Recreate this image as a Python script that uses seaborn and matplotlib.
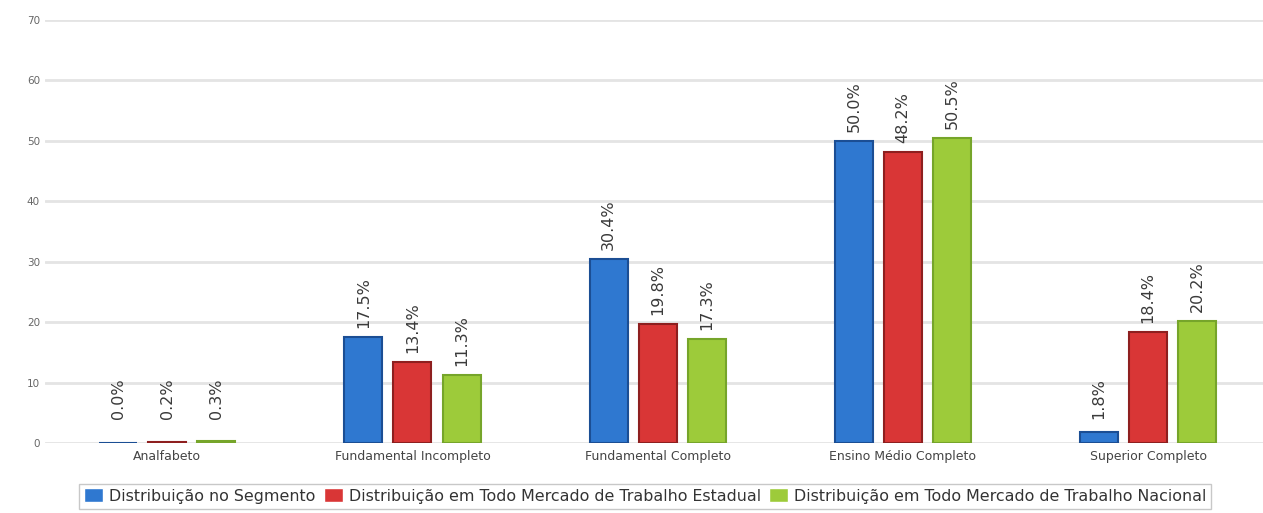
import matplotlib
matplotlib.use("Agg")
import matplotlib.pyplot as plt
import pandas as pd
import seaborn as sns

# data
categorias = ["Analfabeto", "Fundamental Incompleto", "Fundamental Completo",
              "Ensino Médio Completo", "Superior Completo"]
series = ["Distribuição no Segmento",
          "Distribuição em Todo Mercado de Trabalho Estadual",
          "Distribuição em Todo Mercado de Trabalho Nacional"]
segmento = [0.0, 17.5, 30.4, 50.0, 1.8]
estadual = [0.2, 13.4, 19.8, 48.2, 18.4]
nacional = [0.3, 11.3, 17.3, 50.5, 20.2]
yticks = [0, 10, 20, 30, 40, 50, 60, 70]

cores = ["#2f78d0", "#d93636", "#9dcb3a"]
bordas = ["#1b4e94", "#8e1f1f", "#76a52a"]

rows = []
for s, vals in zip(series, [segmento, estadual, nacional]):
    for c, v in zip(categorias, vals):
        rows.append({"categoria": c, "serie": s, "valor": v})
df = pd.DataFrame(rows)

sns.set_style("white")
plt.rcParams['font.family'] = ['DejaVu Sans']

fig = plt.figure(figsize=(12.63, 5.13), dpi=100)
ax = fig.add_axes([0.036, 0.136, 0.964, 0.825])

sns.barplot(data=df, x="categoria", y="valor", hue="serie", order=categorias,
            hue_order=series, palette=cores, width=0.6, gap=0.225,
            ax=ax, errorbar=None, saturation=1)

for cont, ec in zip(ax.containers, bordas):
    for b in cont:
        b.set_edgecolor(ec)
        b.set_linewidth(1.5)
        h = b.get_height()
        # tiny bars still get their label lifted off the baseline
        ax.annotate("%.1f%%" % h, (b.get_x() + b.get_width() / 2, max(h, 2.5)),
                    xytext=(0, 9), textcoords="offset pixels",
                    rotation=90, ha="center", va="bottom",
                    fontsize=11.5, color="#3a3a3a")

ax.set_ylim(0, 70)
ax.set_xlim(-0.497, 4.469)
ax.set_yticks(yticks)
ax.yaxis.grid(True, color="#e4e4e4", linewidth=2)
ax.set_axisbelow(True)
for sp in ax.spines.values():
    sp.set_visible(False)
ax.tick_params(axis="y", length=0, pad=4, labelsize=7.5, labelcolor="#666666")
ax.tick_params(axis="x", length=0, pad=5, labelsize=9, labelcolor="#444444")
ax.set_xlabel("")
ax.set_ylabel("")

handles, labels = ax.get_legend_handles_labels()
ax.get_legend().remove()
leg = fig.legend(handles, labels, loc="center", bbox_to_anchor=(0.511, 0.033),
                 ncol=3, fontsize=11.4, frameon=True, fancybox=False,
                 edgecolor="#bbbbbb", handlelength=1.2, handleheight=1.0,
                 handletextpad=0.4, columnspacing=0.5, borderpad=0.3,
                 labelcolor="#333333")

fig.savefig("out.png", dpi=100)
